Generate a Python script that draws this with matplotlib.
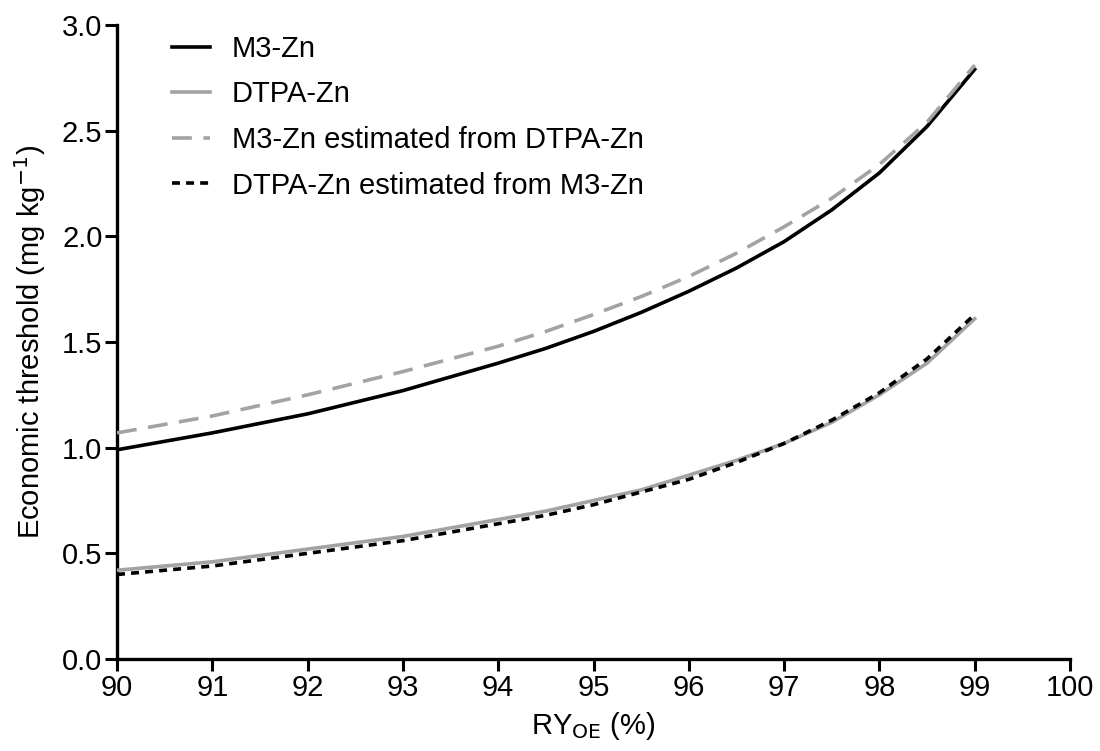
import matplotlib
matplotlib.use("Agg")
import matplotlib.pyplot as plt

plt.rcParams['font.family'] = ['Liberation Sans', 'DejaVu Sans']

ry = [90, 90.5, 91, 91.5, 92, 92.5, 93, 93.5, 94, 94.5, 95, 95.5, 96, 96.5, 97, 97.5, 98, 98.5, 99]
m3_zn = [0.99, 1.03, 1.07, 1.115, 1.16, 1.215, 1.27, 1.335, 1.40, 1.47, 1.55, 1.64, 1.74, 1.85, 1.975, 2.125, 2.30, 2.52, 2.79]
dtpa_zn = [0.42, 0.44, 0.46, 0.49, 0.52, 0.55, 0.58, 0.62, 0.66, 0.70, 0.75, 0.80, 0.87, 0.94, 1.02, 1.12, 1.25, 1.40, 1.61]
m3_est = [1.07, 1.11, 1.15, 1.20, 1.25, 1.305, 1.36, 1.42, 1.48, 1.55, 1.63, 1.715, 1.81, 1.92, 2.045, 2.18, 2.34, 2.54, 2.81]
dtpa_est = [0.40, 0.42, 0.44, 0.47, 0.50, 0.53, 0.56, 0.60, 0.64, 0.68, 0.73, 0.79, 0.85, 0.93, 1.02, 1.13, 1.26, 1.42, 1.63]

labels = ["M3-Zn", "DTPA-Zn", "M3-Zn estimated from DTPA-Zn", "DTPA-Zn estimated from M3-Zn"]
xticks = list(range(90, 101))
yticks = [0.0, 0.5, 1.0, 1.5, 2.0, 2.5, 3.0]

gray = "#a3a3a3"
fs = 21
fig = plt.figure(figsize=(11, 7.51), dpi=100)
ax = fig.add_axes([0.1064, 0.1225, 0.8663, 0.8442])

lw = 2.6
l1, = ax.plot(ry, m3_zn, color="black", lw=lw, label=labels[0], zorder=3)
l2, = ax.plot(ry, dtpa_zn, color=gray, lw=lw, label=labels[1], zorder=3)
l3, = ax.plot(ry, m3_est, color=gray, lw=lw, ls=(0, (5.5, 3.2)), label=labels[2], zorder=4)
l4, = ax.plot(ry, dtpa_est, color="black", lw=lw, ls=(0, (2.2, 1.7)), label=labels[3], zorder=4)

ax.set_xlim(90, 100)
ax.set_ylim(0, 3.0)
ax.set_xticks(xticks)
ax.set_xticklabels([str(t) for t in xticks])
ax.set_yticks(yticks)
ax.set_yticklabels([f"{t:.1f}" for t in yticks])

for s in ["top", "right"]:
    ax.spines[s].set_visible(False)
for s in ["left", "bottom"]:
    ax.spines[s].set_linewidth(2.4)
    ax.spines[s].set_capstyle("projecting")
ax.tick_params(axis="both", which="major", direction="out", length=8.5, width=2.2,
               labelsize=fs, pad=2)

ax.set_xlabel("RY$_{\\mathrm{OE}}$ (%)", fontsize=fs, labelpad=6)
ax.set_ylabel("Economic threshold (mg kg$^{\\mathrm{-1}}$)", fontsize=fs, labelpad=10)

leg = fig.legend(handles=[l1, l2, l3, l4], loc="upper left",
                 bbox_to_anchor=(172 / 1100, 1 - 35 / 751), frameon=False, fontsize=fs,
                 handlelength=1.3, handletextpad=0.75, labelspacing=0.6,
                 borderpad=0, borderaxespad=0)

fig.savefig("out.png", dpi=100)
